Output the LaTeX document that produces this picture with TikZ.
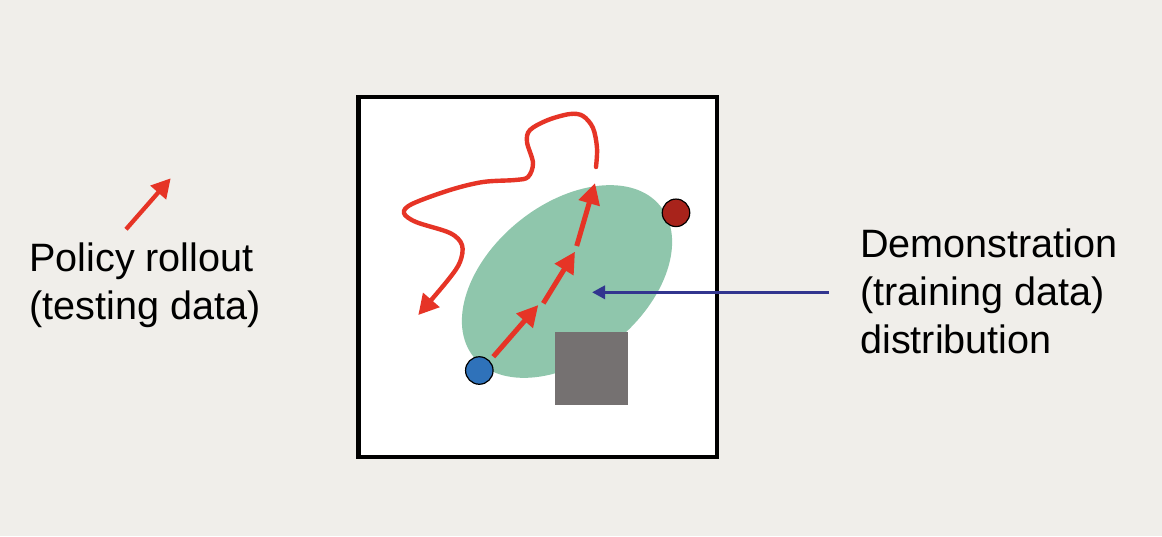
\documentclass[tikz,border=0pt]{standalone}
\usepackage{fontspec}
\setmainfont{Liberation Sans}
\usetikzlibrary{arrows.meta}
\definecolor{bg}{HTML}{F0EEEA}
\definecolor{demogreen}{HTML}{8FC6AC}
\definecolor{obst}{HTML}{757171}
\definecolor{rollred}{HTML}{E63426}
\definecolor{goalred}{HTML}{A8231B}
\definecolor{startblue}{HTML}{2F72BA}
\definecolor{navy}{HTML}{32358F}
\tikzset{
  lbl/.style={inner sep=0pt, align=left, font=\fontsize{39.6}{48}\selectfont, text=black},
  dot/.style={circle, draw=black, line width=1.2pt, minimum size=27.5pt, inner sep=0pt},
  redarrow/.style={draw=rollred, line width=5pt, -{Triangle[length=21pt,width=21pt]}},
  wiggle/.style={draw=rollred, line width=4.4pt, line cap=round, -{Triangle[length=20pt,width=21pt]}},
  navyarrow/.style={draw=navy, line width=3.6pt, -{Triangle[length=13pt,width=13pt]}},
}
\begin{document}
\begin{tikzpicture}[x=1pt,y=-1pt]
\useasboundingbox (0,0) rectangle (1162,536);
\fill[bg] (0,0) rectangle (1162,536);
% frame
\draw[line width=4.3pt, fill=white] (358.5,97) rectangle (717,457);
% demonstration distribution
\fill[demogreen, rotate around={39:(567,281.5)}] (567,281.5) ellipse [x radius=120pt, y radius=77pt];
% obstacle
\fill[obst] (555,332) rectangle (628,405);
% start and goal
\node[dot, fill=startblue] (start) at (479.3,370.5) {};
\node[dot, fill=goalred] (goal) at (676,212.8) {};
% demonstration chain
\coordinate (c0) at (493.3,356.7);
\coordinate (c1) at (538.3,305);
\coordinate (c2) at (543.3,303.3);
\coordinate (c3) at (575,251.7);
\coordinate (c4) at (576.7,246);
\coordinate (c5) at (595,183);
\draw[redarrow] (c0) -- (c1);
\draw[redarrow] (c2) -- (c3);
\draw[redarrow] (c4) -- (c5);
% policy rollout wiggle
\draw[wiggle] plot[smooth, tension=0.55] coordinates {
  (596,167) (597,148) (593,128) (583,116) (570,114) (548,120) (530,130)
  (527,142) (533,163) (528,177) (515,180) (483,182) (450,190) (412,204)
  (404,213) (416,222) (450,233) (462,245) (460,262) (448,280) (418.3,315)};
% labels
\node[lbl, anchor=north west] (policy) at (29,243) {Policy rollout\\(testing data)};
\node[lbl, anchor=north west] (demo) at (860,229) {Demonstration\\(training data)\\distribution};
% legend arrow
\coordinate (l0) at (126,229.3);
\coordinate (l1) at (170.7,178.3);
\draw[redarrow, line width=4.3pt, -{Triangle[length=19pt,width=20pt]}] (l0) -- (l1);
% pointer arrow
\coordinate (n0) at (829,292.3);
\coordinate (n1) at (592,292.3);
\draw[navyarrow] (n0) -- (n1);
\end{tikzpicture}
\end{document}
